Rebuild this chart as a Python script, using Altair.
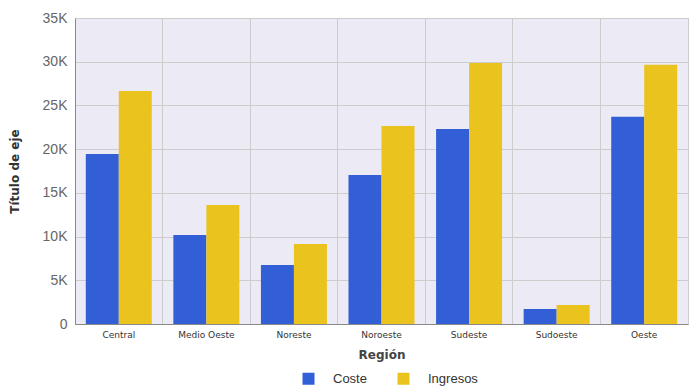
import altair as alt
import pandas as pd

regions = ["Central", "Medio Oeste", "Noreste", "Noroeste", "Sudeste", "Sudoeste", "Oeste"]
coste = [19450, 10180, 6750, 17050, 22300, 1720, 23700]
ingresos = [26650, 13600, 9150, 22650, 29850, 2170, 29650]
series = ["Coste", "Ingresos"]
colors = ["#335FD6", "#EBC31F"]

rows = []
for r, c, i in zip(regions, coste, ingresos):
    rows.append({"Región": r, "Serie": "Coste", "Valor": c})
    rows.append({"Región": r, "Serie": "Ingresos", "Valor": i})
df = pd.DataFrame(rows)

chart = alt.Chart(df).mark_bar().encode(
    x=alt.X("Región:N", sort=regions,
            scale=alt.Scale(paddingInner=0, paddingOuter=0),
            axis=alt.Axis(title="Región", labelAngle=0, ticks=False, grid=True,
                          bandPosition=0, gridColor="#CCCCCC", domainColor="#888888",
                          labelFont="DejaVu Sans", labelFontSize=9, labelColor="#333333",
                          labelPadding=6, titleFont="DejaVu Sans", titleFontSize=12,
                          titleFontWeight="bold", titleColor="#444444", titlePadding=10)),
    xOffset=alt.XOffset("Serie:N", sort=series,
                        scale=alt.Scale(paddingInner=0, paddingOuter=0.327)),
    y=alt.Y("Valor:Q", scale=alt.Scale(domain=[0, 35000], nice=False),
            axis=alt.Axis(title="Título de eje", values=[0, 5000, 10000, 15000, 20000, 25000, 30000, 35000],
                          labelExpr="datum.value == 0 ? '0' : (datum.value/1000) + 'K'",
                          ticks=False, gridColor="#CCCCCC", domainColor="#888888",
                          labelFont="Liberation Sans", labelFontSize=14, labelColor="#666666",
                          labelPadding=8, titleFont="DejaVu Sans", titleFontSize=12,
                          titleFontWeight="bold", titleColor="#333333", titlePadding=21)),
    color=alt.Color("Serie:N", sort=series,
                    scale=alt.Scale(domain=series, range=colors),
                    legend=alt.Legend(title=None, orient="none", direction="horizontal",
                                      legendX=227, legendY=354, symbolType="square",
                                      symbolSize=144, symbolStrokeWidth=0,
                                      labelFont="Liberation Sans", labelFontSize=13,
                                      labelColor="#333333", labelOffset=18,
                                      columnPadding=30, symbolOpacity=1)),
).properties(
    width=613, height=306,
    background="#FFFFFF",
    autosize=alt.AutoSizeParams(type="none"),
    padding={"left": 67, "top": 10, "right": 3, "bottom": 68},
).configure_view(
    fill="#ECEAF5", stroke="#CCCCCC"
)

chart.save("out.html", embed_options={"renderer": "svg", "actions": False})
